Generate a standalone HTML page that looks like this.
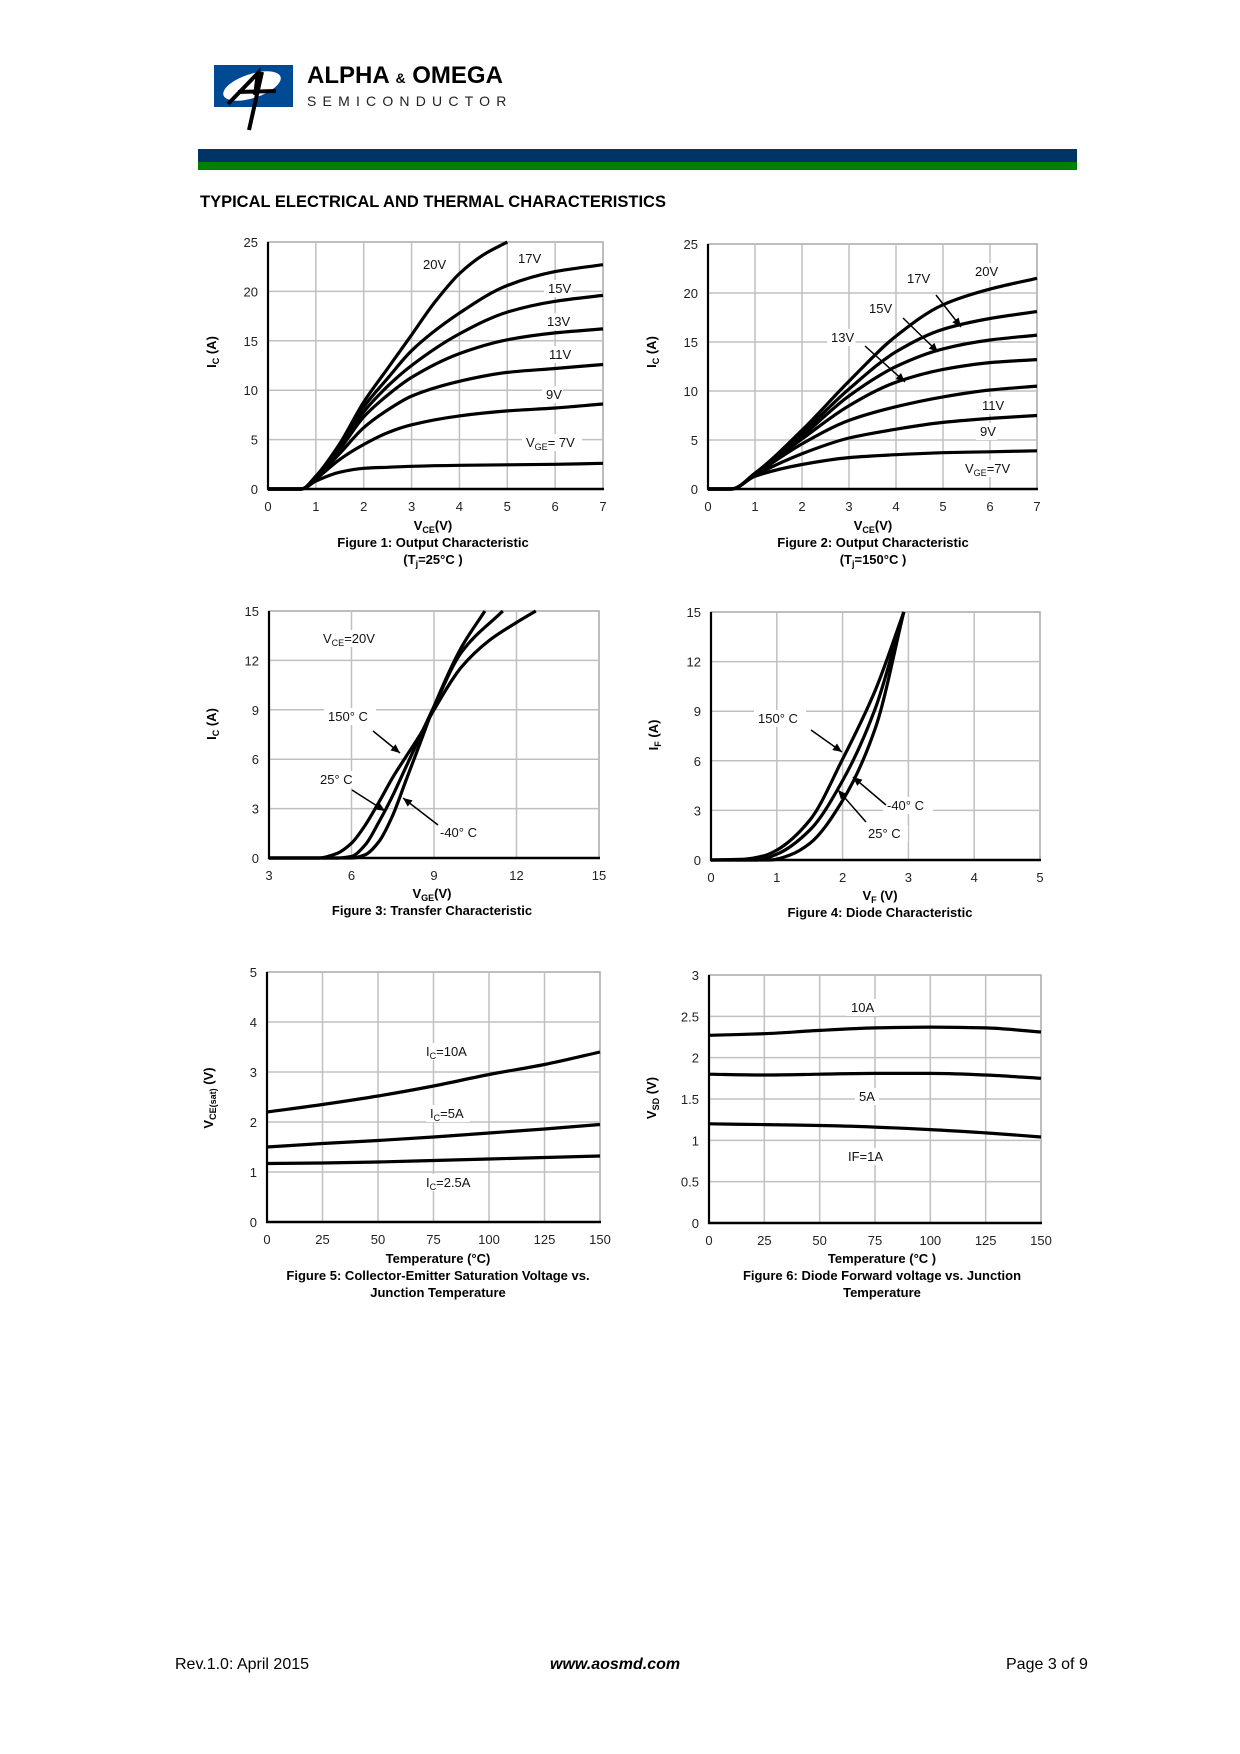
<!DOCTYPE html>
<html><head><meta charset="utf-8">
<style>
html,body{margin:0;padding:0;background:#fff;}
svg{display:block;font-family:"Liberation Sans",Arial,sans-serif;}
</style></head>
<body>
<svg id="page" width="1240" height="1754" viewBox="0 0 1240 1754" xmlns="http://www.w3.org/2000/svg">
<g>
<rect x="214" y="65" width="79" height="42" fill="#004a93"/>
<ellipse cx="252" cy="86" rx="30" ry="12" fill="#fff" transform="rotate(-18 252 86)"/>
<path d="M228 104 L258 73 L255 95 M238 92 L276 91 M262 72 L249 130" stroke="#000" stroke-width="4" fill="none"/>
<text x="307" y="83" font-size="24" font-weight="bold" fill="#000">ALPHA <tspan font-size="14">&amp;</tspan> OMEGA</text>
<text x="307" y="106" font-size="14" letter-spacing="6.2" fill="#222">SEMICONDUCTOR</text>
</g>
<rect x="198" y="149" width="879" height="13" fill="#003366"/>
<rect x="198" y="162" width="879" height="8" fill="#008000"/>
<text x="200" y="207" font-size="16.5" font-weight="bold">TYPICAL ELECTRICAL AND THERMAL CHARACTERISTICS</text>
<g id="charts"></g>
<text x="175" y="1669" font-size="16">Rev.1.0: April 2015</text>
<text x="550" y="1669" font-size="16" font-weight="bold" font-style="italic">www.aosmd.com</text>
<text x="1006" y="1669" font-size="16">Page 3 of 9</text>
</svg>
<script>
// Figure 1 data (Tj=25C), [VCE, IC]
const f1x = [0, 0.7, 1, 1.5, 2, 2.5, 3, 4, 5, 6, 7];
const f1_7V  = [0, 0, 0.8, 1.7, 2.1, 2.2, 2.3, 2.4, 2.45, 2.5, 2.6];
const f1_9V  = [0, 0, 1.0, 3.0, 4.5, 5.7, 6.5, 7.4, 7.9, 8.2, 8.6];
const f1_11V = [0, 0, 1.1, 3.6, 6.2, 8.0, 9.4, 10.9, 11.8, 12.2, 12.6];
const f1_13V = [0, 0, 1.2, 4.0, 7.3, 9.5, 11.3, 13.7, 15.1, 15.8, 16.2];
const f1_15V = [0, 0, 1.2, 4.2, 7.8, 10.4, 12.5, 15.7, 17.9, 19.0, 19.6];
const f1_17V = [0, 0, 1.3, 4.4, 8.3, 11.2, 14.0, 17.8, 20.6, 22.0, 22.7];
const f1x20 = [0, 0.7, 1, 1.5, 2, 2.5, 3, 3.5, 4, 4.5, 5];
const f1_20V = [0, 0, 1.3, 4.6, 8.8, 12.2, 15.6, 19.0, 21.8, 23.7, 25];
// Figure 2 data (Tj=150C)
const f2x = [0, 0.5, 1, 2, 3, 4, 5, 6, 7];
const f2_7V  = [0, 0, 1.3, 2.5, 3.2, 3.5, 3.7, 3.8, 3.9];
const f2_9V  = [0, 0, 1.4, 3.6, 5.2, 6.1, 6.8, 7.2, 7.5];
const f2_11V = [0, 0, 1.5, 4.6, 7.0, 8.4, 9.4, 10.1, 10.5];
const f2_13V = [0, 0, 1.5, 5.1, 8.5, 10.9, 12.2, 12.9, 13.2];
const f2_15V = [0, 0, 1.6, 5.4, 9.5, 12.5, 14.3, 15.2, 15.7];
const f2_17V = [0, 0, 1.6, 5.7, 10.2, 14.0, 16.3, 17.4, 18.1];
const f2_20V = [0, 0, 1.6, 6.0, 11.0, 15.6, 18.8, 20.4, 21.5];
// Figure 3 transfer
const f3x150 = [3, 4.8, 5.5, 6, 6.5, 7, 7.5, 8, 8.5, 9, 10, 11, 12, 12.7];
const f3y150 = [0, 0, 0.3, 0.9, 2, 3.4, 4.9, 6.2, 7.5, 9, 11.6, 13.2, 14.3, 15];
const f3x25 = [3, 5.5, 6, 6.5, 7, 7.5, 8, 8.5, 9, 10, 11.5];
const f3y25 = [0, 0, 0.1, 0.8, 2.2, 3.8, 5.6, 7.4, 9.2, 12.5, 15];
const f3xm40 = [3, 6, 6.5, 7, 7.5, 8, 8.5, 9, 10, 10.85];
const f3ym40 = [0, 0, 0.2, 1, 2.6, 4.8, 7, 9.2, 12.8, 15];
// Figure 4 diode
const f4x150 = [0, 0.5, 0.8, 1, 1.5, 2, 2.5, 2.93];
const f4y150 = [0, 0.05, 0.25, 0.6, 2.4, 6.1, 10.3, 15];
const f4x25 = [0, 0.7, 1, 1.5, 2, 2.5, 2.93];
const f4y25 = [0, 0, 0.35, 1.8, 4.8, 9.2, 15];
const f4xm40 = [0, 0.9, 1.2, 1.5, 2, 2.5, 2.93];
const f4ym40 = [0, 0, 0.3, 1.0, 3.6, 8.0, 15];
// Figure 5 VCE(sat) vs T
const f5x = [0, 25, 50, 75, 100, 125, 150];
const f5_10A = [2.2, 2.35, 2.52, 2.72, 2.95, 3.15, 3.4];
const f5_5A = [1.5, 1.57, 1.63, 1.7, 1.78, 1.86, 1.95];
const f5_25A = [1.17, 1.18, 1.2, 1.23, 1.26, 1.29, 1.32];
// Figure 6 VSD vs T
const f6x = [0, 25, 50, 75, 100, 125, 150];
const f6_10A = [2.27, 2.29, 2.33, 2.36, 2.37, 2.36, 2.31];
const f6_5A = [1.8, 1.79, 1.8, 1.81, 1.81, 1.79, 1.75];
const f6_1A = [1.2, 1.19, 1.18, 1.16, 1.13, 1.09, 1.04];
// tick labels
const t1x = ["0","1","2","3","4","5","6","7"], t1y = ["0","5","10","15","20","25"];
const t3x = ["3","6","9","12","15"], t3y = ["0","3","6","9","12","15"];
const t4x = ["0","1","2","3","4","5"];
const t5x = ["0","25","50","75","100","125","150"], t5y = ["0","1","2","3","4","5"];
const t6y = ["0","0.5","1","1.5","2","2.5","3"];

const NS = "http://www.w3.org/2000/svg";
const root = document.getElementById("charts");
function mk(tag, attrs, parent){const e=document.createElementNS(NS,tag);for(const k in attrs)e.setAttribute(k,attrs[k]);(parent||root).appendChild(e);return e;}
function smooth(pts){
  const n=pts.length,d=[],m=[];
  for(let i=0;i<n-1;i++){d.push((pts[i+1][1]-pts[i][1])/(pts[i+1][0]-pts[i][0]));}
  m[0]=d[0];m[n-1]=d[n-2];
  for(let i=1;i<n-1;i++){
    if(d[i-1]*d[i]<=0)m[i]=0;
    else{const h0=pts[i][0]-pts[i-1][0],h1=pts[i+1][0]-pts[i][0];const w1=2*h1+h0,w2=h1+2*h0;m[i]=(w1+w2)/(w1/d[i-1]+w2/d[i]);}
  }
  let s="M"+pts[0][0].toFixed(1)+" "+pts[0][1].toFixed(1);
  for(let i=0;i<n-1;i++){
    const h=(pts[i+1][0]-pts[i][0])/3;
    s+=" C"+(pts[i][0]+h).toFixed(1)+" "+(pts[i][1]+m[i]*h).toFixed(1)+" "+(pts[i+1][0]-h).toFixed(1)+" "+(pts[i+1][1]-m[i+1]*h).toFixed(1)+" "+pts[i+1][0].toFixed(1)+" "+pts[i+1][1].toFixed(1);
  }
  return s;
}
function chart(c){
  const g=mk("g",{});
  
  
  const sx=v=>c.x0+(v-c.xmin)/(c.xmax-c.xmin)*(c.x1-c.x0);
  const sy=v=>c.y1-(v-c.ymin)/(c.ymax-c.ymin)*(c.y1-c.y0);
  mk("rect",{x:c.x0,y:c.y0,width:c.x1-c.x0,height:c.y1-c.y0,fill:"#fff",stroke:"#a8a8a8","stroke-width":1.5},g);
  c.xt.forEach((t,i)=>{
    const v=c.xmin+i*(c.xmax-c.xmin)/(c.xt.length-1),X=sx(v);
    if(i>0&&i<c.xt.length-1){const l=mk("line",{x1:X,y1:c.y0,x2:X,y2:c.y1,stroke:"#c0c0c0","stroke-width":1.5},g);}
    const tx=mk("text",{x:X,y:c.y1+22,"font-size":13,"text-anchor":"middle",fill:"#222"},g);tx.textContent=t;
    
    
  });
  c.yt.forEach((t,i)=>{
    const v=c.ymin+i*(c.ymax-c.ymin)/(c.yt.length-1),Y=sy(v);
    if(i>0&&i<c.yt.length-1){const l=mk("line",{x1:c.x0,y1:Y,x2:c.x1,y2:Y,stroke:"#c0c0c0","stroke-width":1.5},g);}
    const ty=mk("text",{x:c.x0-10,y:Y+5,"font-size":13,"text-anchor":"end",fill:"#222"},g);ty.textContent=t;
    
    
  });
  (c.labels||[]).forEach(L=>{
    const w=L.w||L.t.length*7.5+6;
    mk("rect",{x:L.x-4,y:L.y-13,width:w,height:17,fill:"#fff"},g);
    const t=mk("text",{x:L.x,y:L.y,"font-size":13,fill:"#111"},g);
    t.innerHTML=L.t;
    
    
  });
  mk("line",{x1:c.x0,y1:c.y0,x2:c.x0,y2:c.y1+1,stroke:"#000","stroke-width":2.2},g);
  mk("line",{x1:c.x0-1,y1:c.y1,x2:c.x1+1,y2:c.y1,stroke:"#000","stroke-width":2.5},g);
  c.series.forEach(s=>{
    const pts=s.x.map((v,i)=>[sx(v),sy(s.y[i])]);
    const p=mk("path",{d:smooth(pts),fill:"none",stroke:"#000","stroke-width":3.2,"stroke-linejoin":"round"},g);
    
    
  });
  (c.arrows||[]).forEach(a=>{
    const dx=a[2]-a[0],dy=a[3]-a[1],len=Math.hypot(dx,dy),ux=dx/len,uy=dy/len;
    mk("line",{x1:a[0],y1:a[1],x2:a[2],y2:a[3],stroke:"#000","stroke-width":1.5},g);
    const bx=a[2]-ux*9,by=a[3]-uy*9;
    mk("path",{d:`M${a[2]} ${a[3]} L${bx-uy*4} ${by+ux*4} L${bx+uy*4} ${by-ux*4}Z`,fill:"#000"},g);
  });
  const yt=mk("text",{x:0,y:0,"font-size":13,"font-weight":"bold","text-anchor":"middle",transform:`translate(${c.ytx},${c.yty}) rotate(-90)`},g);
  yt.innerHTML=c.ytitle;
  
  
  c.caps.forEach((cp,i)=>{
    const t=mk("text",{x:c.cx,y:cp[1],"font-size":13,"font-weight":"bold","text-anchor":"middle"},g);
    t.innerHTML=cp[0];
    
    
  });
}
const sub=(a,b)=>a+'<tspan font-size="9" dy="3">'+b+'</tspan><tspan dy="-3">';
chart({name:"figure-1-output-characteristic-25c",x0:268,x1:603,y0:242,y1:489,xmin:0,xmax:7,ymin:0,ymax:25,xt:t1x,yt:t1y,
 series:[{n:"curve-vge-7v",x:f1x,y:f1_7V},{n:"curve-vge-9v",x:f1x,y:f1_9V},{n:"curve-vge-11v",x:f1x,y:f1_11V},{n:"curve-vge-13v",x:f1x,y:f1_13V},{n:"curve-vge-15v",x:f1x,y:f1_15V},{n:"curve-vge-17v",x:f1x,y:f1_17V},{n:"curve-vge-20v",x:f1x20,y:f1_20V}],
 labels:[{x:423,y:269,t:"20V"},{x:518,y:263,t:"17V"},{x:548,y:293,t:"15V"},{x:547,y:326,t:"13V"},{x:549,y:359,t:"11V"},{x:546,y:399,t:"9V"},{x:526,y:447,t:sub("V","GE")+"= 7V</tspan>",w:60}],
 ytx:216,yty:352,ytitle:sub("I","C")+" (A)</tspan>",cx:433,caps:[[sub("V","CE")+"(V)</tspan>",530],["Figure 1: Output Characteristic",547],["(T<tspan font-size=\"9\" dy=\"3\">j</tspan><tspan dy=\"-3\">=25°C )</tspan>",564]]});
chart({name:"figure-2-output-characteristic-150c",x0:708,x1:1037,y0:244,y1:489,xmin:0,xmax:7,ymin:0,ymax:25,xt:t1x,yt:t1y,
 series:[{n:"curve-vge-7v",x:f2x,y:f2_7V},{n:"curve-vge-9v",x:f2x,y:f2_9V},{n:"curve-vge-11v",x:f2x,y:f2_11V},{n:"curve-vge-13v",x:f2x,y:f2_13V},{n:"curve-vge-15v",x:f2x,y:f2_15V},{n:"curve-vge-17v",x:f2x,y:f2_17V},{n:"curve-vge-20v",x:f2x,y:f2_20V}],
 labels:[{x:975,y:276,t:"20V"},{x:907,y:283,t:"17V"},{x:869,y:313,t:"15V"},{x:831,y:342,t:"13V"},{x:982,y:410,t:"11V"},{x:980,y:436,t:"9V"},{x:965,y:473,t:sub("V","GE")+"=7V</tspan>",w:54}],
 arrows:[[936,295,961,327],[903,318,938,352],[865,346,905,382]],
 ytx:656,yty:352,ytitle:sub("I","C")+" (A)</tspan>",cx:873,caps:[[sub("V","CE")+"(V)</tspan>",530],["Figure 2: Output Characteristic",547],["(T<tspan font-size=\"9\" dy=\"3\">j</tspan><tspan dy=\"-3\">=150°C )</tspan>",564]]});
chart({name:"figure-3-transfer-characteristic",x0:269,x1:599,y0:611,y1:858,xmin:3,xmax:15,ymin:0,ymax:15,xt:t3x,yt:t3y,
 series:[{n:"curve-150c",x:f3x150,y:f3y150},{n:"curve-25c",x:f3x25,y:f3y25},{n:"curve-minus40c",x:f3xm40,y:f3ym40}],
 labels:[{x:323,y:643,t:sub("V","CE")+"=20V</tspan>",w:60},{x:328,y:721,t:"150° C",w:52},{x:320,y:784,t:"25° C",w:44},{x:440,y:837,t:"-40° C",w:48}],
 arrows:[[373,731,400,753],[352,790,385,811],[438,825,403,798]],
 ytx:216,yty:724,ytitle:sub("I","C")+" (A)</tspan>",cx:432,caps:[[sub("V","GE")+"(V)</tspan>",898],["Figure 3: Transfer Characteristic",915]]});
chart({name:"figure-4-diode-characteristic",x0:711,x1:1040,y0:612,y1:860,xmin:0,xmax:5,ymin:0,ymax:15,xt:t4x,yt:t3y,
 series:[{n:"curve-150c",x:f4x150,y:f4y150},{n:"curve-25c",x:f4x25,y:f4y25},{n:"curve-minus40c",x:f4xm40,y:f4ym40}],
 labels:[{x:758,y:723,t:"150° C",w:52},{x:887,y:810,t:"-40° C",w:50},{x:868,y:838,t:"25° C",w:44}],
 arrows:[[811,730,842,752],[886,805,853,777],[866,822,838,790]],
 ytx:658,yty:735,ytitle:sub("I","F")+" (A)</tspan>",cx:880,caps:[[sub("V","F")+" (V)</tspan>",900],["Figure 4: Diode Characteristic",917]]});
chart({name:"figure-5-vcesat-vs-temperature",x0:267,x1:600,y0:972,y1:1222,xmin:0,xmax:150,ymin:0,ymax:5,xt:t5x,yt:t5y,
 series:[{n:"curve-ic-10a",x:f5x,y:f5_10A},{n:"curve-ic-5a",x:f5x,y:f5_5A},{n:"curve-ic-2-5a",x:f5x,y:f5_25A}],
 labels:[{x:426,y:1056,t:sub("I","C")+"=10A</tspan>",w:52},{x:430,y:1118,t:sub("I","C")+"=5A</tspan>",w:44},{x:426,y:1187,t:sub("I","C")+"=2.5A</tspan>",w:52}],
 ytx:213,yty:1098,ytitle:sub("V","CE(sat)")+" (V)</tspan>",cx:438,caps:[["Temperature (°C)",1263],["Figure 5: Collector-Emitter Saturation Voltage vs.",1280],["Junction Temperature",1297]]});
chart({name:"figure-6-vsd-vs-temperature",x0:709,x1:1041,y0:975,y1:1223,xmin:0,xmax:150,ymin:0,ymax:3,xt:t5x,yt:t6y,
 series:[{n:"curve-10a",x:f6x,y:f6_10A},{n:"curve-5a",x:f6x,y:f6_5A},{n:"curve-if-1a",x:f6x,y:f6_1A}],
 labels:[{x:851,y:1012,t:"10A",w:32},{x:859,y:1101,t:"5A",w:24},{x:848,y:1161,t:"IF=1A",w:44}],
 ytx:656,yty:1098,ytitle:sub("V","SD")+" (V)</tspan>",cx:882,caps:[["Temperature (°C )",1263],["Figure 6: Diode Forward voltage vs. Junction",1280],["Temperature",1297]]});
</script>
</body></html>
